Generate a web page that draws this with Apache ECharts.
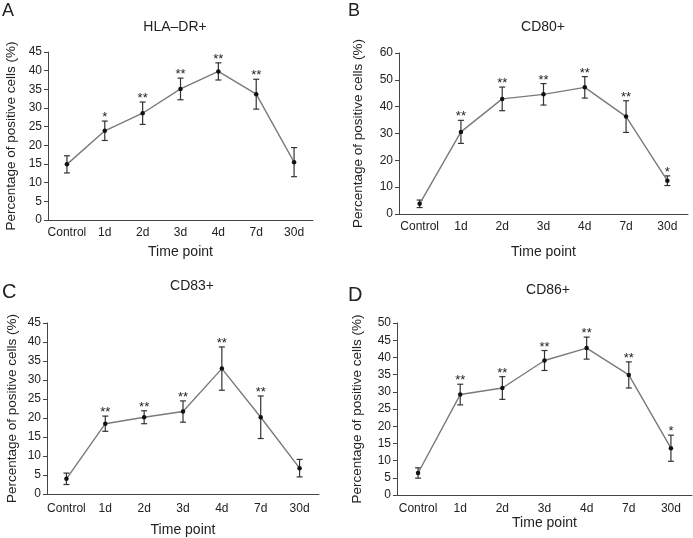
<!DOCTYPE html>
<html>
<head>
<meta charset="utf-8">
<script src="https://cdn.jsdelivr.net/npm/echarts@6/dist/echarts.min.js"></script>
<style>
  html, body { margin: 0; padding: 0; background: #fff; }
  #chart { width: 693px; height: 538px; }
</style>
</head>
<body>
<div id="chart"></div>
<script>
const categories = ["Control", "1d", "2d", "3d", "4d", "7d", "30d"];

// HLA-DR+
const hlaMean = [14.9, 23.9, 28.6, 35.1, 39.8, 33.7, 15.5];
const hlaErr = [2.3, 2.6, 3.0, 2.9, 2.3, 4.0, 3.9];
const hlaSig = ["", "*", "**", "**", "**", "**", ""];

// CD80+
const cd80Mean = [3.8, 30.6, 42.9, 44.6, 47.2, 36.3, 12.4];
const cd80Err = [1.4, 4.3, 4.4, 4.0, 4.0, 5.9, 1.8];
const cd80Sig = ["", "**", "**", "**", "**", "**", "*"];

// CD83+
const cd83Mean = [4.0, 18.5, 20.2, 21.7, 33.0, 20.2, 6.8];
const cd83Err = [1.5, 2.0, 1.7, 2.8, 5.7, 5.6, 2.3];
const cd83Sig = ["", "**", "**", "**", "**", "**", ""];

// CD86+
const cd86Mean = [6.4, 29.2, 31.1, 39.1, 42.7, 34.9, 13.6];
const cd86Err = [1.5, 3.0, 3.3, 2.9, 3.2, 3.8, 3.8];
const cd86Sig = ["", "**", "**", "**", "**", "**", "*"];

const font = "Liberation Sans, Arial, Helvetica, sans-serif";
const textColor = "#222";
const axisColor = "#444";

const panels = [
    {letter: "A", title: "HLA\u2013DR+", mean: hlaMean, err: hlaErr, sig: hlaSig, max: 45, step: 5,
        grid: {left: 48, top: 52, width: 265, height: 168},
        titleX: 175, titleY: 20, letterX: 2, letterY: 2, letterSize: 18,
        yGap: 30, xGap: 25, labelMargin: 7},
    {letter: "B", title: "CD80+", mean: cd80Mean, err: cd80Err, sig: cd80Sig, max: 60, step: 10,
        grid: {left: 399, top: 53, width: 289, height: 161},
        titleX: 543, titleY: 20, letterX: 348, letterY: 2, letterSize: 18,
        yGap: 34, xGap: 31, labelMargin: 7},
    {letter: "C", title: "CD83+", mean: cd83Mean, err: cd83Err, sig: cd83Sig, max: 45, step: 5,
        grid: {left: 47, top: 323, width: 272, height: 171},
        titleX: 192, titleY: 279, letterX: 2, letterY: 282, letterSize: 20,
        yGap: 28, xGap: 29, labelMargin: 9},
    {letter: "D", title: "CD86+", mean: cd86Mean, err: cd86Err, sig: cd86Sig, max: 50, step: 5,
        grid: {left: 397, top: 323, width: 295, height: 172},
        titleX: 548, titleY: 283, letterX: 348, letterY: 285, letterSize: 20,
        yGap: 33, xGap: 19, labelMargin: 8}
];

const chart = echarts.init(document.getElementById("chart"));

const titles = [];
const grids = [];
const xAxes = [];
const yAxes = [];
const series = [];

panels.forEach((p, i) => {
    titles.push({
        text: p.title, left: p.titleX, top: p.titleY, textAlign: "center", padding: 0,
        textStyle: {fontFamily: font, fontSize: 14, fontWeight: "normal", color: textColor}
    });
    titles.push({
        text: p.letter, left: p.letterX, top: p.letterY, padding: 0,
        textStyle: {fontFamily: font, fontSize: p.letterSize, fontWeight: "normal", color: textColor}
    });
    grids.push(p.grid);
    xAxes.push({
        type: "category", gridIndex: i, data: categories, boundaryGap: true,
        name: "Time point", nameLocation: "middle", nameGap: p.xGap,
        nameTextStyle: {fontFamily: font, fontSize: 14, color: textColor},
        axisLine: {lineStyle: {color: axisColor, width: 1}},
        axisTick: {inside: true, length: 4, lineStyle: {color: axisColor}},
        axisLabel: {fontFamily: font, fontSize: 12, color: textColor, margin: p.labelMargin, interval: 0},
        splitLine: {show: false}
    });
    yAxes.push({
        type: "value", gridIndex: i, min: 0, max: p.max, interval: p.step,
        name: "Percentage of positive cells (%)", nameLocation: "middle", nameGap: p.yGap,
        nameTextStyle: {fontFamily: font, fontSize: 13.5, color: textColor},
        axisLine: {show: true, lineStyle: {color: axisColor, width: 1}},
        axisTick: {show: true, length: 4, lineStyle: {color: axisColor}},
        axisLabel: {fontFamily: font, fontSize: 12, color: textColor, margin: 6},
        splitLine: {show: false}
    });
    series.push({
        type: "custom", xAxisIndex: i, yAxisIndex: i,
        data: p.mean.map((m, k) => [k, m, p.err[k]]),
        encode: {x: 0, y: 1},
        z: 3,
        renderItem: (params, api) => {
            const x = api.value(0);
            const m = api.value(1);
            const e = api.value(2);
            const top = api.coord([x, m + e]);
            const bot = api.coord([x, m - e]);
            const cap = 3;
            const style = {stroke: "#333", lineWidth: 1.2};
            const children = [
                {type: "line", shape: {x1: top[0], y1: top[1], x2: bot[0], y2: bot[1]}, style},
                {type: "line", shape: {x1: top[0] - cap, y1: top[1], x2: top[0] + cap, y2: top[1]}, style},
                {type: "line", shape: {x1: bot[0] - cap, y1: bot[1], x2: bot[0] + cap, y2: bot[1]}, style}
            ];
            const s = p.sig[params.dataIndex];
            if (s) {
                children.push({
                    type: "text",
                    style: {
                        x: top[0], y: top[1] + 3, text: s, align: "center", verticalAlign: "bottom",
                        font: "13px " + font, fill: "#222"
                    }
                });
            }
            return {type: "group", children};
        }
    });
    series.push({
        type: "line", xAxisIndex: i, yAxisIndex: i, data: p.mean,
        symbol: "circle", symbolSize: 4.5, showSymbol: true,
        lineStyle: {color: "#7a7a7a", width: 1.4},
        itemStyle: {color: "#111"},
        z: 4, animation: false
    });
});

chart.setOption({
    animation: false,
    title: titles,
    grid: grids,
    xAxis: xAxes,
    yAxis: yAxes,
    series
});
</script>
</body>
</html>
